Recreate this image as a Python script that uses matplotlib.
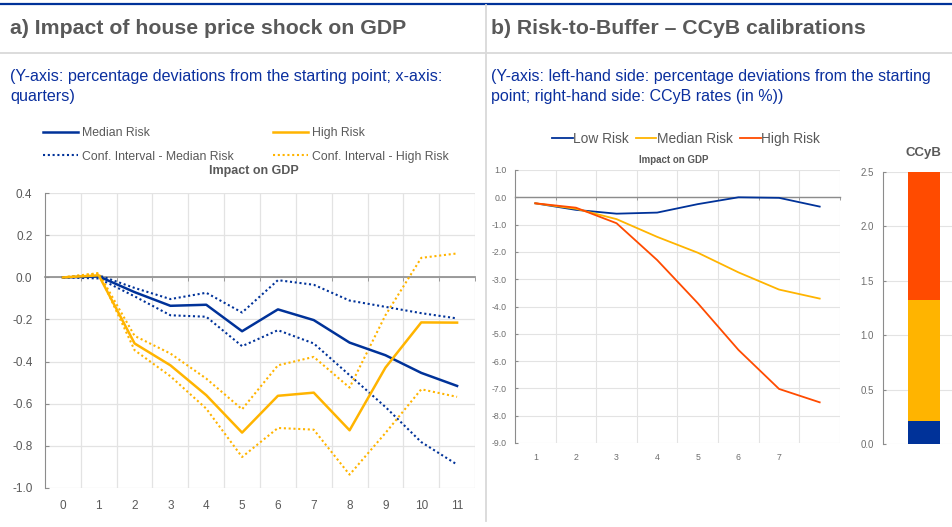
import matplotlib
matplotlib.use("Agg")
import matplotlib.pyplot as plt
from matplotlib.lines import Line2D
from matplotlib.ticker import MultipleLocator, FixedLocator
import numpy as np

plt.rcParams['font.family'] = ['Liberation Sans', 'DejaVu Sans']

# ---------------- data ----------------
quarters = list(range(12))
median_risk = [0.0, 0.005, -0.07, -0.135, -0.13, -0.256, -0.152, -0.203, -0.31, -0.37, -0.454, -0.516]
median_ci_upper = [0.0, 0.01, -0.05, -0.103, -0.073, -0.167, -0.013, -0.035, -0.11, -0.14, -0.17, -0.195]
median_ci_lower = [0.0, -0.005, -0.09, -0.18, -0.187, -0.327, -0.251, -0.314, -0.465, -0.616, -0.783, -0.89]
high_risk = [0.0, 0.01, -0.314, -0.418, -0.56, -0.738, -0.563, -0.548, -0.727, -0.429, -0.214, -0.215]
high_ci_upper = [0.0, 0.02, -0.278, -0.362, -0.481, -0.627, -0.418, -0.378, -0.524, -0.18, 0.093, 0.114]
high_ci_lower = [0.0, 0.02, -0.346, -0.47, -0.624, -0.854, -0.716, -0.724, -0.938, -0.74, -0.532, -0.568]

rtb_periods = [1, 2, 3, 4, 5, 6, 7, 8]
rtb_period_labels = ["1", "2", "3", "4", "5", "6", "7", ""]
rtb_low = [-0.22, -0.46, -0.6, -0.56, -0.25, 0.0, -0.02, -0.34]
rtb_median = [-0.22, -0.42, -0.8, -1.45, -2.03, -2.75, -3.38, -3.71]
rtb_high = [-0.22, -0.38, -0.95, -2.3, -3.88, -5.59, -7.02, -7.51]

ccyb_segments = ["Low Risk", "Median Risk", "High Risk"]
ccyb_values = [0.21, 1.11, 1.18]

# ---------------- style ----------------
BLUE = "#003299"
YELLOW = "#FFB400"
RED = "#FF4B00"
GREY_TXT = "#595959"
GRID = "#e3e3e3"
AXIS = "#8c8c8c"
SUB_BLUE = "#0a2f9e"

W, H = 953, 527
fig = plt.figure(figsize=(W / 100, H / 100), dpi=100)


def fx(px):
    return px / W


def fy(py):
    return 1 - py / H


# header decorations
fig.add_artist(Line2D([0, 1], [fy(4), fy(4)], color=BLUE, lw=1.6, transform=fig.transFigure))
fig.add_artist(Line2D([0, 1], [fy(52.7), fy(52.7)], color="#d9d9d9", lw=1.3, transform=fig.transFigure))
fig.add_artist(Line2D([fx(486), fx(486)], [fy(5), fy(521)], color="#d9d9d9", lw=1.3, transform=fig.transFigure))

fig.text(fx(10), fy(33.5), "a) Impact of house price shock on GDP", fontsize=15.3, fontweight="bold",
         color=GREY_TXT, va="baseline", ha="left")
fig.text(fx(491), fy(33.5), "b) Risk-to-Buffer \u2013 CCyB calibrations", fontsize=15.3, fontweight="bold",
         color=GREY_TXT, va="baseline", ha="left")
SUB_FS = 11.6
fig.text(fx(10), fy(81), "(Y-axis: percentage deviations from the starting point; x-axis:", fontsize=SUB_FS,
         color=SUB_BLUE, va="baseline", ha="left")
fig.text(fx(10), fy(101), "quarters)", fontsize=SUB_FS, color=SUB_BLUE, va="baseline", ha="left")
fig.text(fx(491), fy(81), "(Y-axis: left-hand side: percentage deviations from the starting", fontsize=11.5,
         color=SUB_BLUE, va="baseline", ha="left")
fig.text(fx(491), fy(101), "point; right-hand side: CCyB rates (in %))", fontsize=11.5, color=SUB_BLUE,
         va="baseline", ha="left")

# ---------------- panel a ----------------
ax = fig.add_axes([fx(45), fy(487.7), fx(430), (487.7 - 193.3) / H])
ax.plot(quarters, median_risk, color=BLUE, lw=1.8, label="Median Risk", zorder=4)
ax.plot(quarters, high_risk, color=YELLOW, lw=1.8, label="High Risk", zorder=4)
dots = (0, (1, 1.3))
ax.plot(quarters, median_ci_upper, color=BLUE, lw=1.5, ls=dots, label="Conf. Interval - Median Risk", zorder=3)
ax.plot(quarters, median_ci_lower, color=BLUE, lw=1.5, ls=dots, zorder=3)
ax.plot(quarters, high_ci_upper, color=YELLOW, lw=1.5, ls=dots, label="Conf. Interval - High Risk", zorder=3)
ax.plot(quarters, high_ci_lower, color=YELLOW, lw=1.5, ls=dots, zorder=3)

ax.set_xlim(-0.5, 11.5)
ax.set_ylim(-1.0, 0.4)
ax.yaxis.set_major_locator(MultipleLocator(0.2))
ax.set_yticklabels([f"{v:.1f}" for v in ax.get_yticks()])
ax.set_xticks(quarters)
ax.set_xticklabels([str(q) for q in quarters])
ax.xaxis.set_minor_locator(FixedLocator(np.arange(0.5, 12, 1.0)))
for s in ["right", "bottom"]:
    ax.spines[s].set_visible(False)
ax.spines["left"].set_color(AXIS)
ax.spines["top"].set_position(("data", 0))
ax.spines["top"].set_color(AXIS)
ax.spines["top"].set_linewidth(1.2)
ax.spines["top"].set_zorder(2)
ax.tick_params(axis="x", which="major", length=0, labelsize=8.5, labelcolor=GREY_TXT, pad=9,
               top=False, bottom=False, labeltop=False, labelbottom=True)
ax.tick_params(axis="x", which="minor", top=True, bottom=False, direction="in", length=3, color=AXIS)
ax.tick_params(axis="y", which="major", direction="in", length=3, color=AXIS, labelsize=8.5,
               labelcolor=GREY_TXT, pad=9)
ax.grid(True, axis="y", which="major", color=GRID, lw=0.9)
ax.grid(True, axis="x", which="minor", color=GRID, lw=0.9)
ax.set_axisbelow(True)
ax.set_title("Impact on GDP", fontsize=9, fontweight="bold", color=GREY_TXT, pad=0, y=1.065)
ax.title.set_x(0.485)

h, l = ax.get_legend_handles_labels()
order = [0, 2, 1, 3]
fig.legend([h[i] for i in order], [l[i] for i in order], ncol=2, loc="upper left",
           bbox_to_anchor=(fx(43), fy(127)), frameon=False, fontsize=8.8, borderpad=0, borderaxespad=0,
           handlelength=2.9, handletextpad=0.3, columnspacing=3.2, labelspacing=0.95,
           labelcolor=GREY_TXT)

# ---------------- panel b: lines ----------------
bx = fig.add_axes([fx(515), fy(443), fx(325), (443 - 170) / H])
bx.plot(rtb_periods, rtb_low, color=BLUE, lw=1.3, label="Low Risk", zorder=3)
bx.plot(rtb_periods, rtb_median, color=YELLOW, lw=1.3, label="Median Risk", zorder=3)
bx.plot(rtb_periods, rtb_high, color=RED, lw=1.3, label="High Risk", zorder=4)
bx.set_xlim(0.5, 8.5)
bx.set_ylim(-9.0, 1.0)
bx.yaxis.set_major_locator(MultipleLocator(1.0))
bx.set_yticklabels([f"{v:.1f}" for v in bx.get_yticks()])
bx.set_xticks(rtb_periods)
bx.set_xticklabels(rtb_period_labels)
bx.xaxis.set_minor_locator(FixedLocator(np.arange(1.5, 9, 1.0)))
for s in ["right", "bottom"]:
    bx.spines[s].set_visible(False)
bx.spines["left"].set_color(AXIS)
bx.spines["top"].set_position(("data", 0))
bx.spines["top"].set_color(AXIS)
bx.spines["top"].set_linewidth(1.0)
bx.tick_params(axis="x", which="major", length=0, labelsize=6.3, labelcolor="#6e6e6e", pad=7,
               top=False, bottom=False, labeltop=False, labelbottom=True)
bx.tick_params(axis="x", which="minor", top=True, bottom=False, direction="in", length=2.5, color=AXIS)
bx.tick_params(axis="y", which="major", direction="in", length=2.5, color=AXIS, labelsize=6.3,
               labelcolor="#6e6e6e", pad=6)
bx.grid(True, axis="y", which="major", color=GRID, lw=0.8)
bx.grid(True, axis="x", which="minor", color=GRID, lw=0.8)
bx.set_axisbelow(True)
bx.set_title("Impact on GDP", fontsize=7, fontweight="bold", color=GREY_TXT, pad=0, y=1.025)
bx.title.set_x(0.49)

fig.legend(*bx.get_legend_handles_labels(), ncol=3, loc="center",
           bbox_to_anchor=(fx(686), fy(139)), frameon=False, fontsize=9.9, borderpad=0, borderaxespad=0,
           handlelength=1.5, handletextpad=0.05, columnspacing=0.5, labelcolor=GREY_TXT)

# ---------------- panel b: CCyB stacked bar ----------------
cx = fig.add_axes([fx(883.3), fy(444), 1 - fx(883.3), (444 - 171.7) / H])
bottom = 0.0
for name, val, col in zip(ccyb_segments, ccyb_values, [BLUE, YELLOW, RED]):
    cx.bar([0], [val], bottom=bottom, width=0.5, color=col, zorder=3)
    bottom += val
cx.set_xlim(-0.624, 0.445)
cx.set_ylim(0, 2.5)
cx.yaxis.set_major_locator(MultipleLocator(0.5))
cx.set_yticklabels([f"{v:.1f}" for v in cx.get_yticks()])
cx.set_xticks([])
for s in ["right", "top", "bottom"]:
    cx.spines[s].set_visible(False)
cx.spines["left"].set_color(AXIS)
cx.tick_params(axis="y", direction="in", length=2.5, color=AXIS, labelsize=7, labelcolor="#6e6e6e", pad=7)
cx.grid(True, axis="y", color=GRID, lw=0.8)
cx.set_axisbelow(True)
fig.text(fx(923.5), fy(153), "CCyB", fontsize=9.5, fontweight="bold", color=GREY_TXT,
         ha="center", va="center")

fig.savefig("out.png", dpi=100)
